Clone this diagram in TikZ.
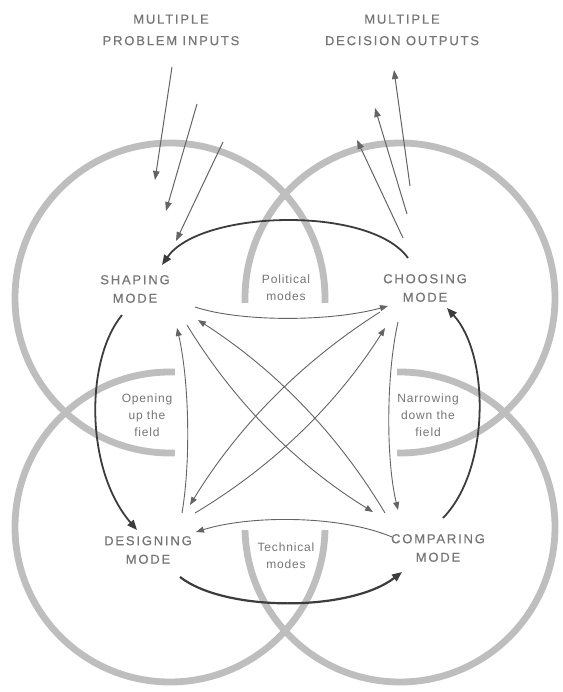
\documentclass[tikz,border=0pt]{standalone}
\usepackage{fontspec}
\setmainfont{Liberation Sans}
\usetikzlibrary{arrows.meta}
\definecolor{ringgray}{HTML}{BEBEBE}
\definecolor{labelgray}{HTML}{767676}
\definecolor{darkline}{HTML}{3C3C3C}
\definecolor{thinline}{HTML}{646464}
\begin{document}
\begin{tikzpicture}[x=1pt,y=-1pt,
  ring/.style={draw=ringgray, line width=6.8pt},
  bigarrow/.style={draw=darkline, line width=1.8pt, -{Triangle[length=10pt,width=8pt]}},
  thinarrow/.style={draw=thinline, line width=0.9pt, -{Triangle[length=8pt,width=6pt]}},
  iolink/.style={draw=thinline, line width=1pt, -{Triangle[length=9pt,width=6.5pt]}},
  modelabel/.style={text=labelgray, align=center, inner sep=0pt,
    font=\fontsize{13}{18.5}\selectfont\addfontfeature{LetterSpace=14,FakeBold=0.4}},
  smalllabel/.style={text=labelgray, align=center, inner sep=0pt,
    font=\fontsize{12}{17}\selectfont\addfontfeature{LetterSpace=7}},
  toplabel/.style={text=labelgray, align=center, inner sep=0pt,
    font=\fontsize{13}{21.5}\selectfont\addfontfeature{LetterSpace=14,FakeBold=0.4}}
]
\useasboundingbox (0,0) rectangle (562,692);
\fill[white] (0,0) rectangle (562,692);

% the four mode circles
\draw[ring] (170,298) circle[radius=155pt];
\draw[ring] (400,298) circle[radius=155pt];
\draw[ring] (170,527) circle[radius=155pt];
\draw[ring] (400,527) circle[radius=155pt];
\fill[white] (175,303) rectangle (397,530);

% labels
\node[toplabel] (inputs) at (171,30) {MULTIPLE\\PROBLEM INPUTS};
\node[toplabel] (outputs) at (402,30) {MULTIPLE\\DECISION OUTPUTS};
\node[modelabel] (shaping) at (135,289) {SHAPING\\MODE};
\node[modelabel] (choosing) at (425,288) {CHOOSING\\MODE};
\node[modelabel] (designing) at (148,550) {DESIGNING\\MODE};
\node[modelabel] (comparing) at (438,548) {COMPARING\\MODE};
\node[smalllabel] (political) at (286,288) {Political\\modes};
\node[smalllabel] (technical) at (286,556) {Technical\\modes};
\node[smalllabel] (opening) at (147,415) {Opening\\up the\\field};
\node[smalllabel] (narrowing) at (428,415) {Narrowing\\down the\\field};

% endpoints
\coordinate (in1s) at (172,67);  \coordinate (in1e) at (155,180);
\coordinate (in2s) at (197,104); \coordinate (in2e) at (166,211);
\coordinate (in3s) at (223,142); \coordinate (in3e) at (176,241);
\coordinate (out1s) at (410,186); \coordinate (out1e) at (394,70);
\coordinate (out2s) at (407,214); \coordinate (out2e) at (375,108);
\coordinate (out3s) at (403,238); \coordinate (out3e) at (357,140);

\coordinate (cTop) at (408,258);  \coordinate (sTop) at (162,265);
\coordinate (sLeft) at (122,315); \coordinate (dLeft) at (137,530);
\coordinate (dBot) at (180,577);  \coordinate (pBot) at (402,572);
\coordinate (pRight) at (443,518); \coordinate (cRight) at (447,308);

\coordinate (sA) at (195,307); \coordinate (cA) at (388,306);
\coordinate (pB) at (392,537); \coordinate (dB) at (196,532);
\coordinate (dC) at (182,513); \coordinate (sC) at (177,328);
\coordinate (cD) at (398,322); \coordinate (pD) at (398,510);
\coordinate (pA1) at (385,513); \coordinate (sA1) at (198,320);
\coordinate (sA2) at (187,325); \coordinate (pA2) at (373,512);
\coordinate (cB1) at (380,312); \coordinate (dB1) at (190,505);
\coordinate (dB2) at (195,513); \coordinate (cB2) at (385,328);

% inputs and outputs
\draw[iolink] (in1s) -- (in1e);
\draw[iolink] (in2s) -- (in2e);
\draw[iolink] (in3s) -- (in3e);
\draw[iolink] (out1s) -- (out1e);
\draw[iolink] (out2s) -- (out2e);
\draw[iolink] (out3s) -- (out3e);

% main cycle
\draw[bigarrow] (cTop) .. controls (370,205) and (200,210) .. (sTop);
\draw[bigarrow] (sLeft) .. controls (85,360) and (85,470) .. (dLeft);
\draw[bigarrow, line width=2.2pt] (dBot) .. controls (225,612) and (350,612) .. (pBot);
\draw[bigarrow] (pRight) .. controls (490,470) and (490,355) .. (cRight);

% inner links
\draw[thinarrow] (sA) .. controls (240,322) and (330,322) .. (cA);
\draw[thinarrow] (pB) .. controls (340,515) and (250,515) .. (dB);
\draw[thinarrow] (dC) .. controls (191,460) and (189,380) .. (sC);
\draw[thinarrow] (cD) .. controls (386,375) and (386,460) .. (pD);
\draw[thinarrow] (pA1) .. controls (337.8,434.1) and (275.4,369.7) .. (sA1);
\draw[thinarrow] (sA2) .. controls (234.1,402.1) and (296.1,464.5) .. (pA2);
\draw[thinarrow] (cB1) .. controls (301.7,361.6) and (238.3,426) .. (dB1);
\draw[thinarrow] (dB2) .. controls (273,466.3) and (336.4,404.7) .. (cB2);
\end{tikzpicture}
\end{document}
